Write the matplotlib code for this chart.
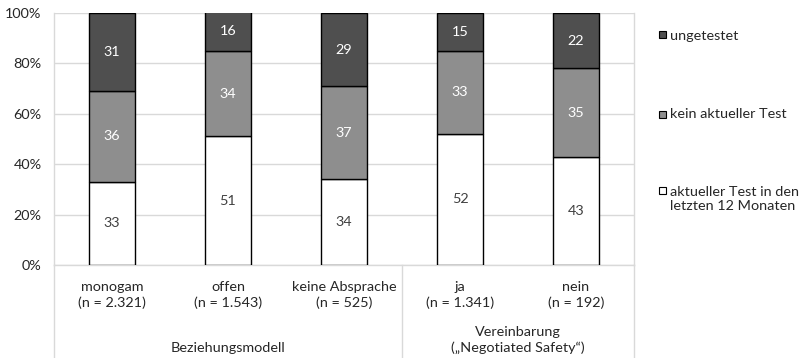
import matplotlib
matplotlib.use("Agg")
import matplotlib.pyplot as plt
from matplotlib.patches import Rectangle
from matplotlib.lines import Line2D

plt.rcParams['font.family'] = ['Lato', 'DejaVu Sans']

categories = ["monogam\n(n = 2.321)", "offen\n(n = 1.543)", "keine Absprache\n(n = 525)",
              "ja\n(n = 1.341)", "nein\n(n = 192)"]
groups = ["Beziehungsmodell", "Vereinbarung\n(\u201eNegotiated Safety\u201c)"]
group_sizes = [3, 2]
series_names = ["aktueller Test in den\nletzten 12 Monaten", "kein aktueller Test", "ungetestet"]
aktuell = [33, 51, 34, 52, 43]
kein_aktuell = [36, 34, 37, 33, 35]
ungetestet = [31, 16, 29, 15, 22]
series = [aktuell, kein_aktuell, ungetestet]
colors = ["#ffffff", "#8e8e8e", "#4f4f4f"]
label_colors = ["#404040", "#ffffff", "#ffffff"]
yticks = [0, 20, 40, 60, 80, 100]

FS = 10.4
LS = 1.3
W, H = 800, 358
fig = plt.figure(figsize=(W / 100, H / 100), dpi=100)
L, R, T, B = 54, 634, 13, 265
ax = fig.add_axes([L / W, 1 - B / H, (R - L) / W, (B - T) / H])

def py2ax(py):
    return (B - py) / (B - T)

n = len(categories)
x = list(range(n))
bottom = [0] * n
for vals, c, lc in zip(series, colors, label_colors):
    ax.bar(x, vals, 0.4, bottom=bottom, color=c, edgecolor="black", linewidth=1.0, zorder=3)
    for xi, v, b in zip(x, vals, bottom):
        ax.text(xi, b + v / 2, str(v), ha="center", va="center", color=lc, fontsize=FS, zorder=4)
    bottom = [b + v for b, v in zip(bottom, vals)]

ax.set_xlim(-0.5, n - 0.5)
ax.set_ylim(0, 100)
ax.set_yticks(yticks)
ax.set_yticklabels([f"{t}%" for t in yticks], fontsize=FS, color="#262626")
ax.tick_params(axis="y", length=0, pad=9)
ax.set_xticks([])
ax.grid(axis="y", color="#d9d9d9", linewidth=1.0, zorder=0)
ax.spines["top"].set_visible(False)
for s in ["left", "right", "bottom"]:
    ax.spines[s].set_color("#d9d9d9")
    ax.spines[s].set_linewidth(1.0)

trans = ax.get_xaxis_transform()
for xi, lab in zip(x, categories):
    ax.text(xi, py2ax(295), lab, transform=trans, ha="center", va="center",
            fontsize=FS, color="#262626", linespacing=LS)

sep_positions = [-0.5]
acc = -0.5
for gs in group_sizes:
    acc += gs
    sep_positions.append(acc)
for sp in sep_positions:
    ax.add_line(Line2D([sp, sp], [0, py2ax(357)], transform=trans, color="#d9d9d9", linewidth=1.0,
                       clip_on=False))
group_centers_py = [348, 340]
for gi, (g, gs) in enumerate(zip(groups, group_sizes)):
    center = (sep_positions[gi] + sep_positions[gi + 1]) / 2
    ax.text(center, py2ax(group_centers_py[gi]), g, transform=trans, ha="center", va="center",
            fontsize=FS, color="#262626", linespacing=LS)

leg_entries = [(2, 36, 34), (1, 114, 114), (0, 198.5, 190)]
for si, ty, sy in leg_entries:
    fig.patches.append(Rectangle((659 / W, 1 - (sy + 3.5) / H), 7 / W, 7 / H, transform=fig.transFigure,
                                 facecolor=colors[si], edgecolor="black", linewidth=0.8))
    fig.text(670 / W, 1 - ty / H, series_names[si], ha="left", va="center",
             fontsize=FS, color="#262626", linespacing=1.2)

fig.savefig("out.png", dpi=100)
